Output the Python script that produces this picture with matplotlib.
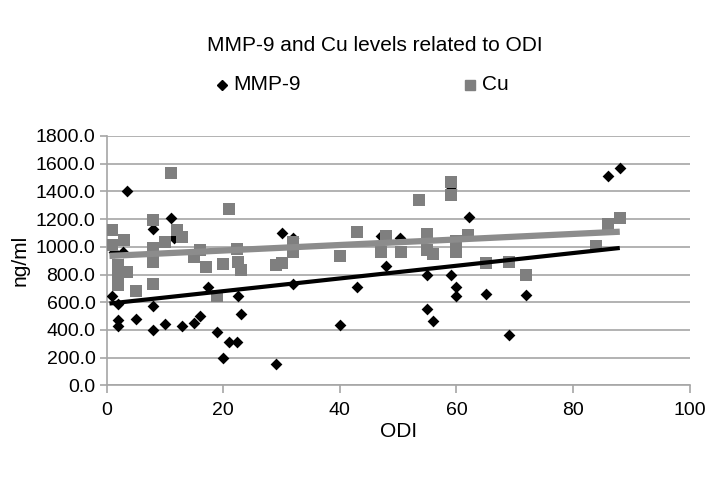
import numpy as np
import matplotlib
matplotlib.use("Agg")
import matplotlib.pyplot as plt
from matplotlib.lines import Line2D

plt.rcParams['font.family'] = ['Liberation Sans', 'DejaVu Sans']

title = "MMP-9 and Cu levels related to ODI"
x_label = "ODI"
y_label = "ng/ml"
series_names = ["MMP-9", "Cu"]

mmp9_odi = [3.5, 11, 8, 11.5, 30, 1.2, 2.9, 1, 2, 2, 2, 5, 8, 8, 10, 13, 15, 16, 17.4, 19, 20,
            21, 22.4, 22.6, 23, 29, 32, 32, 40, 43, 47, 48, 50.4, 55, 55, 56, 59, 59, 60, 60,
            62.2, 65, 69, 72, 86, 88]
mmp9_val = [1405, 1210, 1130, 1060, 1100, 960, 960, 645, 585, 475, 430, 480, 575, 400, 445, 430, 447, 503, 711, 383, 195,
            310, 310, 644, 512, 155, 735, 1065, 435, 710, 1075, 860, 1060, 795, 553, 468, 1420, 797, 711, 644,
            1218, 663, 365, 655, 1510, 1565]

cu_odi = [11, 21, 1, 3, 1, 2, 2, 2, 3.5, 5, 8, 8, 8, 8, 12, 13, 10, 15, 16, 17, 19, 20,
          22.3, 22.5, 23, 29, 30, 32, 32, 40, 43, 47, 48, 50.5, 53.5, 55, 55, 56, 59, 59,
          60, 60, 62, 65, 69, 72, 84, 86, 88]
cu_val = [1530, 1275, 1120, 1050, 1010, 870, 805, 725, 815, 680, 1190, 990, 890, 730, 1120, 1070, 1035, 925, 975, 855, 645, 875,
          985, 890, 835, 870, 885, 1035, 965, 930, 1105, 965, 1080, 965, 1335, 1090, 975, 945, 1470, 1375,
          1045, 965, 1085, 885, 890, 800, 1005, 1165, 1205]

x_ticks = [0, 20, 40, 60, 80, 100]
y_ticks = [0, 200, 400, 600, 800, 1000, 1200, 1400, 1600, 1800]

fig = plt.figure(figsize=(7.2, 4.8), dpi=100)
ax = fig.add_axes([0.148, 0.197, 0.810, 0.520])

grid_c = '#a6a6a6'
ax.set_xlim(0, 100)
ax.set_ylim(0, 1800)
ax.set_yticks(y_ticks)
ax.set_yticklabels([f"{v:.1f}" for v in y_ticks])
ax.set_xticks(x_ticks)
ax.set_xticklabels([str(v) for v in x_ticks])
ax.yaxis.grid(True, color=grid_c, linewidth=1.2)
ax.set_axisbelow(True)
for s in ['top', 'right']:
    ax.spines[s].set_visible(False)
for s in ['left', 'bottom']:
    ax.spines[s].set_color(grid_c)
    ax.spines[s].set_linewidth(1.2)
ax.tick_params(axis='both', colors=grid_c, labelcolor='black', labelsize=14, length=6, width=1.2)
ax.tick_params(axis='y', length=5, pad=3)
ax.tick_params(axis='x', pad=6)

mx = np.array(mmp9_odi, float); my = np.array(mmp9_val, float)
cx = np.array(cu_odi, float); cy = np.array(cu_val, float)

mk_color = 'black'
sq_color = '#7f7f7f'
ax.scatter(mx, my, marker='D', s=36, color=mk_color, zorder=3, linewidths=0)
ax.scatter(cx, cy, marker='s', s=85, color=sq_color, zorder=4, linewidths=0)

pm = np.polyfit(mx, my, 1)
xm = np.array([mx.min() - 0.5, mx.max()])
ax.plot(xm, np.polyval(pm, xm), color='black', linewidth=3, zorder=5, solid_capstyle='butt')
pc = np.polyfit(cx, cy, 1)
xc = np.array([cx.min() - 0.5, cx.max()])
ax.plot(xc, np.polyval(pc, xc), color='#8c8c8c', linewidth=4.5, zorder=5, solid_capstyle='butt')

ax.set_xlabel(x_label, fontsize=15, labelpad=2)
ax.set_ylabel(y_label, fontsize=15, labelpad=4)

fig.text(0.52, 0.905, title, ha='center', va='center', fontsize=15)

# legend (manual placement, as in the reference)
ly = 1 - 85 / 480
fig.add_artist(Line2D([222 / 720], [ly], marker='D', markersize=5.5, color=mk_color,
                      linestyle='none', transform=fig.transFigure))
fig.text(233 / 720, ly, series_names[0], ha='left', va='center', fontsize=15)
fig.add_artist(Line2D([470 / 720], [ly], marker='s', markersize=7, color=sq_color,
                      linestyle='none', transform=fig.transFigure))
fig.text(482 / 720, ly, series_names[1], ha='left', va='center', fontsize=15)

fig.savefig("out.png", dpi=100)
